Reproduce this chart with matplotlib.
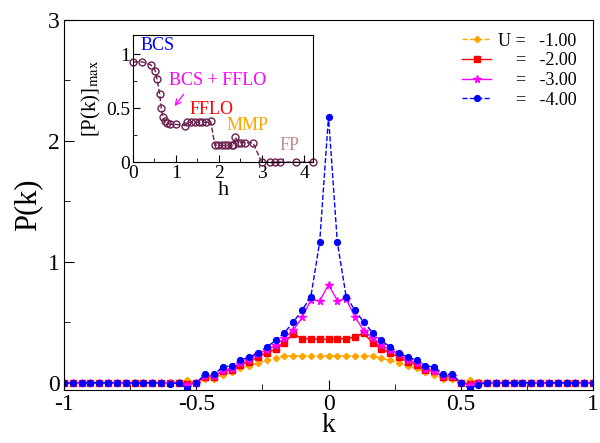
import matplotlib
matplotlib.use("Agg")
import matplotlib.pyplot as plt
import numpy as np

plt.rcParams['font.family'] = ['Liberation Serif', 'DejaVu Serif']
plt.rcParams['mathtext.fontset'] = 'stix'
plt.rcParams['axes.unicode_minus'] = False

# k grid: n/30, n = -30..30
k = np.arange(-30, 31) / 30.0

# half profiles, index n = 0..30 (|k| = n/30)
# left and right written out separately since the curves are not exactly symmetric
p_u1_right = [0.223, 0.223, 0.223, 0.223, 0.223, 0.220, 0.204, 0.185, 0.163, 0.140,
              0.120, 0.085, 0.066, 0.035, 0.030, 0.000, 0.020, 0.010, 0, 0,
              0, 0, 0, 0, 0, 0, 0, 0, 0, 0, 0]
p_u1_left = [0.223, 0.223, 0.223, 0.223, 0.223, 0.223, 0.204, 0.185, 0.163, 0.140,
             0.120, 0.085, 0.066, 0.035, 0.030, 0.000, 0.020, 0.010, 0, 0,
             0, 0, 0, 0, 0, 0, 0, 0, 0, 0, 0]

p_u2_right = [0.360, 0.362, 0.366, 0.378, 0.410, 0.330, 0.280, 0.245, 0.215, 0.170,
              0.150, 0.105, 0.095, 0.050, 0.050, 0.000, -0.010, 0, 0, 0,
              0, 0, 0, 0, 0, 0, 0, 0, 0, 0, 0]
p_u2_left = [0.360, 0.361, 0.361, 0.366, 0.405, 0.330, 0.278, 0.245, 0.215, 0.170,
             0.150, 0.105, 0.095, 0.050, 0.050, 0.000, -0.010, 0, 0, 0,
             0, 0, 0, 0, 0, 0, 0, 0, 0, 0, 0]

p_u3_right = [0.810, 0.680, 0.690, 0.545, 0.430, 0.370, 0.310, 0.275, 0.235, 0.190,
              0.165, 0.115, 0.100, 0.055, 0.055, 0.000, -0.020, 0, 0, 0,
              0, 0, 0, 0, 0, 0, 0, 0, 0, 0, 0]
p_u3_left = [0.810, 0.678, 0.686, 0.540, 0.435, 0.370, 0.310, 0.275, 0.235, 0.190,
             0.165, 0.115, 0.100, 0.055, 0.055, 0.000, -0.020, 0, 0, 0,
             0, 0, 0, 0, 0, 0, 0, 0, 0, 0, 0]

p_u4_right = [2.200, 1.163, 0.713, 0.600, 0.500, 0.415, 0.350, 0.295, 0.245, 0.212,
              0.188, 0.140, 0.130, 0.070, 0.070, 0.000, -0.050, -0.015, 0, 0,
              0, 0, 0, 0, 0, 0, 0, 0, 0, 0, 0]
p_u4_left = [2.200, 1.163, 0.713, 0.600, 0.500, 0.415, 0.350, 0.295, 0.245, 0.212,
             0.188, 0.140, 0.130, 0.070, 0.070, 0.000, -0.050, 0.000, -0.010, 0,
             0, 0, 0, 0, 0, 0, 0, 0, 0, 0, 0]

def full(left, right):
    return np.array(left[:0:-1] + right)

series = [
    ("U =   -1.00", full(p_u1_left, p_u1_right), '#ffa500', 'D', '--', 3.2),
    ("    =   -2.00", full(p_u2_left, p_u2_right), '#ff0000', 's', '-', 4.0),
    ("    =   -3.00", full(p_u3_left, p_u3_right), '#ff00ff', '*', '-', 5.5),
    ("    =   -4.00", full(p_u4_left, p_u4_right), '#0000ff', 'o', '--', 4.2),
]

# inset: [P(k)]_max vs h
h = [0.0, 0.22, 0.41, 0.52, 0.56, 0.62, 0.66, 0.70, 0.74, 0.80, 0.87, 1.01,
     1.22, 1.27, 1.35, 1.44, 1.53, 1.61, 1.71, 1.81, 1.91, 1.99, 2.07, 2.15,
     2.22, 2.30, 2.34, 2.39, 2.45, 2.52, 2.61, 2.80, 3.00, 3.19, 3.31, 3.42,
     3.81, 4.19]
pmax = [0.93, 0.93, 0.905, 0.85, 0.77, 0.635, 0.50, 0.42, 0.38, 0.36, 0.35, 0.35,
        0.34, 0.37, 0.37, 0.37, 0.37, 0.37, 0.37, 0.38, 0.16, 0.155, 0.155, 0.155,
        0.155, 0.155, 0.16, 0.23, 0.18, 0.18, 0.18, 0.18, 0.0, 0.0, 0.0, 0.0,
        0.0, 0.0]

fig = plt.figure(figsize=(6.0, 4.43), dpi=100)
ax = fig.add_axes([0.1067, 0.1196, 0.8816, 0.8353])

for lab, p, c, m, ls, ms in series:
    ax.plot(k, p, color=c, marker=m, linestyle=ls, linewidth=1.0,
            markersize=ms, markeredgecolor=c, label=lab)

ax.set_xlim(-1, 1)
ax.set_ylim(-0.06, 3)
ax.set_xticks([-1, -0.5, 0, 0.5, 1])
ax.set_xticklabels(['-1', '-0.5', '0', '0.5', '1'])
ax.set_xticks(np.arange(-1, 1.01, 0.25), minor=True)
ax.set_yticks([0, 1, 2, 3])
ax.set_yticklabels(['0', '1', '2', '3'])
ax.set_yticks([0.5, 1.5, 2.5], minor=True)
ax.tick_params(direction='in', which='major', length=7, labelsize=17, pad=3)
ax.tick_params(direction='in', which='minor', length=4)
ax.set_xlabel('k', fontsize=20)
ax.xaxis.set_label_coords(0.5, -0.063)
ax.set_ylabel('P(k)', fontsize=22, labelpad=4)

leg = ax.legend(loc='upper right', bbox_to_anchor=(0.99, 0.995), frameon=False,
                fontsize=13, handlelength=1.6, handletextpad=0.4,
                labelspacing=0.15, borderaxespad=0.2)

# inset
ins = fig.add_axes([0.2217, 0.634, 0.30, 0.287])
ins.plot(h, pmax, color='#6b1f4f', linestyle='--', linewidth=1.0, marker='o',
         markersize=5, markerfacecolor='none', markeredgecolor='#6b1f4f',
         clip_on=False)
ins.set_xlim(0, 4.2)
ins.set_ylim(0, 1.18)
ins.set_xticks([0, 1, 2, 3, 4])
ins.set_xticks(np.arange(0, 4.2, 0.5), minor=True)
ins.set_yticks([0, 0.5, 1])
ins.set_yticklabels(['0', '0.5', '1'])
ins.set_yticks([0.25, 0.75], minor=True)
ins.tick_params(direction='in', which='major', length=5, labelsize=14, pad=2)
ins.tick_params(direction='in', which='minor', length=3)
ins.set_xlabel('h', fontsize=16, labelpad=-1)
ins.set_ylabel(r'[P(k)]$_{\max}$', fontsize=15, labelpad=2)

ins.text(0.18, 1.08, 'BCS', color='#0000ff', fontsize=13, va='center')
ins.text(0.83, 0.755, 'BCS + FFLO', color='#ff00ff', fontsize=13, va='center')
ins.text(1.32, 0.485, 'FFLO', color='#ff0000', fontsize=13, va='center')
ins.text(2.19, 0.336, 'MMP', color='#ffa500', fontsize=13, va='center')
ins.text(3.42, 0.15, 'FP', color='#bc8f8f', fontsize=13, va='center')
ins.annotate('', xy=(0.93, 0.50), xytext=(1.22, 0.65),
             arrowprops=dict(arrowstyle='->', color='#ff00ff', lw=0.9))

fig.savefig('out.png', dpi=100)
